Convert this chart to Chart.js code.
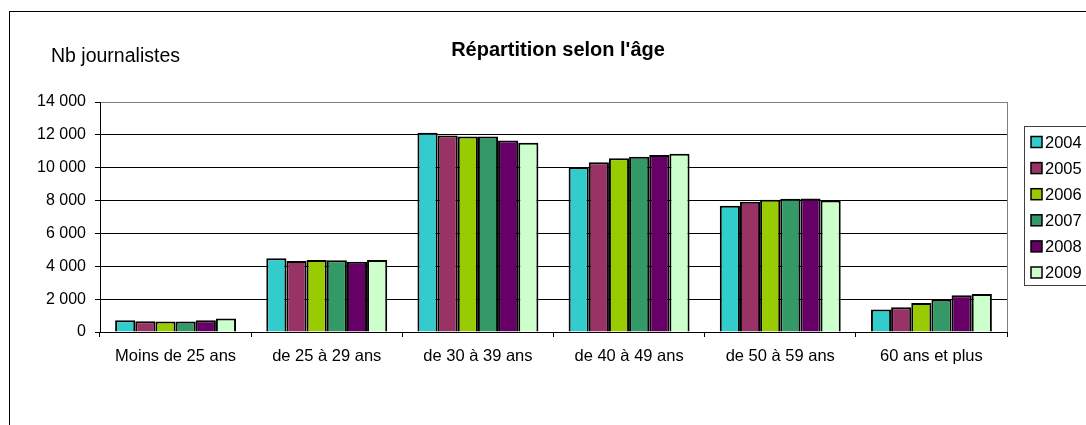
<!DOCTYPE html>
<html>
<head>
<meta charset="utf-8">
<script src="https://cdn.jsdelivr.net/npm/chart.js@4"></script>
<style>
  body { margin: 0; background: #fff; }
</style>
</head>
<body>
<canvas id="ageChart" width="1086" height="425"></canvas>
<script>
const categories = ['Moins de 25 ans', 'de 25 à 29 ans', 'de 30 à 39 ans', 'de 40 à 49 ans', 'de 50 à 59 ans', '60 ans et plus'];
const years = ['2004', '2005', '2006', '2007', '2008', '2009'];
const v2004 = [720, 4490, 12130, 10050, 7680, 1370];
const v2005 = [660, 4320, 11960, 10330, 7930, 1510];
const v2006 = [640, 4380, 11900, 10580, 8050, 1770];
const v2007 = [640, 4360, 11900, 10660, 8110, 1980];
const v2008 = [710, 4280, 11650, 10780, 8130, 2240];
const v2009 = [820, 4380, 11520, 10850, 8010, 2320];
const colors = ['#33cccc', '#993366', '#99cc00', '#339966', '#660066', '#ccffcc'];

const FONT = '"Liberation Sans", Arial, sans-serif';

// thousands with a plain space, like "14 000"
const fmt = v => String(v).replace(/\B(?=(\d{3})+(?!\d))/g, ' ');

// frame, titles, right border and boxed legend
const decorPlugin = {
    id: 'decor',
    afterDraw(chart) {
        const { ctx, chartArea } = chart;
        ctx.save();
        ctx.strokeStyle = '#000';
        ctx.lineWidth = 1;
        ctx.strokeRect(9.5, 11.5, 1100, 500);

        // plot area right border
        ctx.strokeStyle = '#808080';
        ctx.beginPath();
        ctx.moveTo(Math.round(chartArea.right) + 0.5, chartArea.top);
        ctx.lineTo(Math.round(chartArea.right) + 0.5, chartArea.bottom);
        ctx.stroke();

        ctx.fillStyle = '#000';
        ctx.textBaseline = 'alphabetic';
        ctx.textAlign = 'center';
        ctx.font = 'bold 20px ' + FONT;
        ctx.fillText("Répartition selon l'âge", 558, 56);

        ctx.textAlign = 'left';
        ctx.font = '19.5px ' + FONT;
        ctx.fillText('Nb journalistes', 51, 62);

        // legend
        ctx.strokeStyle = '#404040';
        ctx.strokeRect(1024.5, 126.5, 90, 159);
        ctx.font = '16.5px ' + FONT;
        ctx.textBaseline = 'middle';
        chart.data.datasets.forEach((ds, i) => {
            const cy = 142 + i * 26.1;
            ctx.fillStyle = ds.backgroundColor;
            ctx.fillRect(1031, cy - 5.5, 11, 11);
            ctx.strokeStyle = '#000';
            ctx.lineWidth = 1.5;
            ctx.strokeRect(1031, cy - 5.5, 11, 11);
            ctx.fillStyle = '#000';
            ctx.fillText(ds.label, 1045, cy + 1);
        });
        ctx.restore();
    }
};

const seriesValues = [v2004, v2005, v2006, v2007, v2008, v2009];

new Chart(document.getElementById('ageChart'), {
    type: 'bar',
    data: {
        labels: categories,
        datasets: years.map((y, i) => ({
            label: y,
            data: seriesValues[i],
            backgroundColor: colors[i],
            borderColor: '#000',
            borderWidth: 2,
            categoryPercentage: 0.8,
            barPercentage: 1
        }))
    },
    options: {
        responsive: false,
        animation: false,
        layout: { padding: { left: 0, top: 102, right: 79, bottom: 53 } },
        plugins: {
            legend: { display: false },
            title: { display: false },
            tooltip: { enabled: false }
        },
        scales: {
            x: {
                afterFit(s) { s.height = 40; },
                grid: { drawOnChartArea: false, drawTicks: true, tickLength: 5, color: '#000', offset: true },
                border: { color: '#000', width: 1 },
                ticks: { color: '#000', font: { family: FONT, size: 16.5 }, padding: 10, maxRotation: 0 }
            },
            y: {
                min: 0,
                max: 14000,
                afterFit(s) { s.width = 100; },
                grid: {
                    color: ctx => ctx.tick && ctx.tick.value === 14000 ? '#808080' : '#000',
                    tickColor: '#000',
                    tickLength: 5
                },
                border: { color: '#000', width: 1 },
                ticks: {
                    stepSize: 2000,
                    color: '#000',
                    padding: 9,
                    font: { family: FONT, size: 16 },
                    callback: v => fmt(v)
                }
            }
        }
    },
    plugins: [decorPlugin]
});
</script>
</body>
</html>
